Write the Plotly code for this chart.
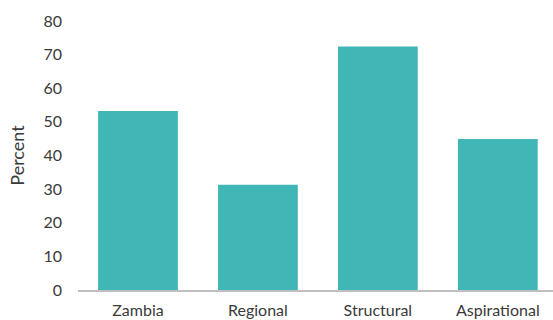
import plotly.graph_objects as go

categories = ["Zambia", "Regional", "Structural", "Aspirational"]
values = [53.2, 31.3, 72.4, 44.9]
y_ticks = [0, 10, 20, 30, 40, 50, 60, 70, 80]

bar_color = "#40B7B6"
text_color = "#3A3A3A"
font_family = "Lato, Open Sans, sans-serif"

fig = go.Figure(
    go.Bar(
        x=categories,
        y=values,
        marker=dict(color=bar_color, line=dict(width=0)),
    )
)

fig.update_layout(
    width=553,
    height=320,
    margin=dict(l=78, r=0, t=21, b=30),
    paper_bgcolor="white",
    plot_bgcolor="white",
    bargap=0.335,
    showlegend=False,
    font=dict(family=font_family, color=text_color, size=16),
)

fig.update_xaxes(
    range=[-0.5, 3.46],
    showgrid=False,
    showline=True,
    linecolor="#BFBFBF",
    linewidth=1.5,
    ticks="",
    automargin=False,
    ticklabelstandoff=5,
    tickfont=dict(size=16, color=text_color),
)

fig.update_yaxes(
    range=[0, 80],
    tickvals=y_ticks,
    showgrid=False,
    zeroline=False,
    showline=False,
    ticks="",
    automargin=False,
    ticklabelstandoff=15,
    tickfont=dict(size=16, color=text_color),
    title=dict(text="Percent", font=dict(size=18, color=text_color), standoff=14),
)

fig.write_html("out.html")
